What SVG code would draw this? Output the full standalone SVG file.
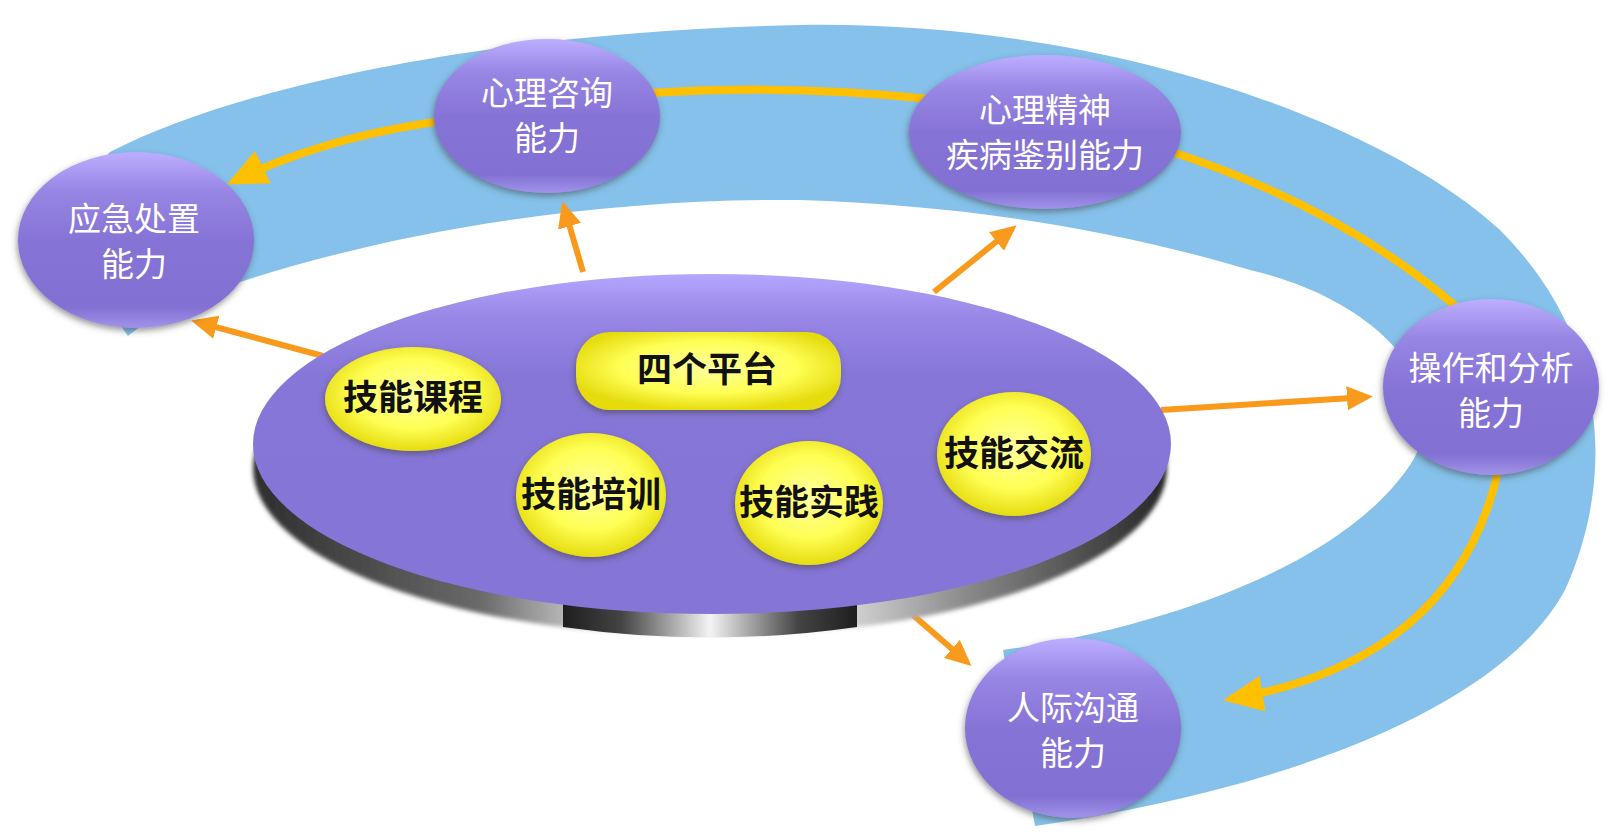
<svg xmlns="http://www.w3.org/2000/svg" width="1618" height="837" viewBox="0 0 1618 837">
<defs>
<linearGradient id="gNode" x1="0" y1="0" x2="0" y2="1">
<stop offset="0" stop-color="#BCAEFF"/>
<stop offset="0.22" stop-color="#9886E4"/>
<stop offset="0.5" stop-color="#8673D6"/>
<stop offset="0.88" stop-color="#8270D2"/>
<stop offset="1" stop-color="#A193EA"/>
</linearGradient>
<linearGradient id="gPlat" x1="0" y1="0" x2="0" y2="1">
<stop offset="0" stop-color="#B4A6FF"/>
<stop offset="0.12" stop-color="#9988E6"/>
<stop offset="0.3" stop-color="#8676D8"/>
<stop offset="1" stop-color="#8575D6"/>
</linearGradient>
<linearGradient id="gRim" x1="0" y1="0" x2="1" y2="0">
<stop offset="0" stop-color="#2e2e2e"/>
<stop offset="0.25" stop-color="#6a6a6a"/>
<stop offset="0.4" stop-color="#e8e8e8"/>
<stop offset="0.6" stop-color="#f2f2f2"/>
<stop offset="0.78" stop-color="#8a8a8a"/>
<stop offset="1" stop-color="#262626"/>
</linearGradient>
<linearGradient id="gStem" x1="0" y1="0" x2="1" y2="0">
<stop offset="0" stop-color="#1e1e1e"/>
<stop offset="0.2" stop-color="#444"/>
<stop offset="0.5" stop-color="#f4f4f4"/>
<stop offset="0.8" stop-color="#444"/>
<stop offset="1" stop-color="#1e1e1e"/>
</linearGradient>
<radialGradient id="gYel" cx="0.5" cy="0.45" r="0.55">
<stop offset="0" stop-color="#FFFF9E"/>
<stop offset="0.6" stop-color="#FFFF55"/>
<stop offset="1" stop-color="#E6DC10"/>
</radialGradient>
<filter id="shadow" x="-20%" y="-20%" width="140%" height="140%">
<feDropShadow dx="-1" dy="3" stdDeviation="3" flood-color="#444" flood-opacity="0.55"/>
</filter>
<filter id="blur2"><feGaussianBlur stdDeviation="2"/></filter>
<marker id="mGold" markerUnits="userSpaceOnUse" markerWidth="40" markerHeight="36" viewBox="0 0 40 36" refX="32" refY="18" orient="auto">
<path d="M0,0 L40,18 L0,36 Z" fill="#FFC000"/>
</marker>
<marker id="mOrange" markerUnits="userSpaceOnUse" markerWidth="26" markerHeight="24" viewBox="0 0 26 24" refX="20" refY="12" orient="auto">
<path d="M0,0 L26,12 L0,24 Z" fill="#F99A1C"/>
</marker>
<style>
.node ellipse{fill:url(#gNode);filter:url(#shadow)}
.lbl{font-family:"Noto Sans CJK SC","Noto Sans CJK TC",sans-serif;font-size:33px;fill:#ffffff;text-anchor:middle}
.ylbl{font-family:"Noto Sans CJK SC","Noto Sans CJK TC",sans-serif;font-size:35px;font-weight:bold;fill:#111;text-anchor:middle}
.yel{fill:url(#gYel);filter:url(#shadow)}
.gold{fill:none;stroke:#FFC000;stroke-width:8}
.orange{fill:none;stroke:#F99A1C;stroke-width:6}
</style>
</defs>
<rect width="1618" height="837" fill="#ffffff"/>
<g id="band">
<path fill="#85C1EA" d="M128,336 C80,270 65,195 110,152 C250,80 520,30 800,25 C1100,20 1380,120 1500,230 C1610,340 1615,480 1565,590 C1500,710 1280,790 1035,826 L1003,650 C1150,630 1340,570 1410,465 C1460,390 1380,300 1250,270 C1100,225 950,205 800,200 C600,198 400,230 240,282 C180,302 150,318 128,336 Z"/>
</g>
<g id="connectors">
<path class="gold" d="M930,99 Q790,84 650,93"/>
<path class="gold" d="M450,120 Q330,135 234,181" marker-end="url(#mGold)"/>
<path class="gold" d="M1160,148 Q1340,205 1460,310"/>
<path class="gold" d="M1500,462 Q1460,660 1231,699" marker-end="url(#mGold)"/>
<path class="orange" d="M323,356 L197,322" marker-end="url(#mOrange)"/>
<path class="orange" d="M583,272 L564,207" marker-end="url(#mOrange)"/>
<path class="orange" d="M934,292 L1012,229" marker-end="url(#mOrange)"/>
<path class="orange" d="M1161,410 L1367,397" marker-end="url(#mOrange)"/>
<path class="orange" d="M913,615 L967,662" marker-end="url(#mOrange)"/>
</g>
<g id="platform">
<ellipse cx="710" cy="468" rx="457" ry="168" fill="url(#gRim)" filter="url(#blur2)"/>
<path d="M563,598 L563,627 Q710,648 857,627 L857,598 Z" fill="url(#gStem)"/>
<ellipse cx="712" cy="444" rx="459" ry="170" fill="url(#gPlat)"/>
</g>
<g id="n-sipingtai">
<rect x="576" y="332" width="265" height="78" rx="34" class="yel"/>
<text class="ylbl" x="707" y="382">四个平台</text>
</g>
<g id="n-kecheng">
<ellipse cx="413" cy="399" rx="88" ry="52" class="yel"/>
<text class="ylbl" x="413" y="410">技能课程</text>
</g>
<g id="n-peixun">
<ellipse cx="591" cy="495" rx="75" ry="62" class="yel"/>
<text class="ylbl" x="591" y="507">技能培训</text>
</g>
<g id="n-shijian">
<ellipse cx="809" cy="503" rx="74" ry="62" class="yel"/>
<text class="ylbl" x="809" y="515">技能实践</text>
</g>
<g id="n-jiaoliu">
<ellipse cx="1014" cy="454" rx="77" ry="62" class="yel"/>
<text class="ylbl" x="1014" y="466">技能交流</text>
</g>
<g id="n-yingji" class="node">
<ellipse cx="136" cy="240" rx="118" ry="88"/>
<text class="lbl" x="134" y="231">应急处置<tspan x="134" dy="45">能力</tspan></text>
</g>
<g id="n-zixun" class="node">
<ellipse cx="547" cy="116" rx="113" ry="77"/>
<text class="lbl" x="547" y="105">心理咨询<tspan x="547" dy="45">能力</tspan></text>
</g>
<g id="n-jianbie" class="node">
<ellipse cx="1045" cy="132" rx="136" ry="77"/>
<text class="lbl" x="1045" y="122">心理精神<tspan x="1045" dy="45">疾病鉴别能力</tspan></text>
</g>
<g id="n-caozuo" class="node">
<ellipse cx="1491" cy="387" rx="108" ry="88"/>
<text class="lbl" x="1491" y="380">操作和分析<tspan x="1491" dy="45">能力</tspan></text>
</g>
<g id="n-goutong" class="node">
<ellipse cx="1073" cy="728" rx="108" ry="90"/>
<text class="lbl" x="1073" y="720">人际沟通<tspan x="1073" dy="45">能力</tspan></text>
</g>
</svg>
